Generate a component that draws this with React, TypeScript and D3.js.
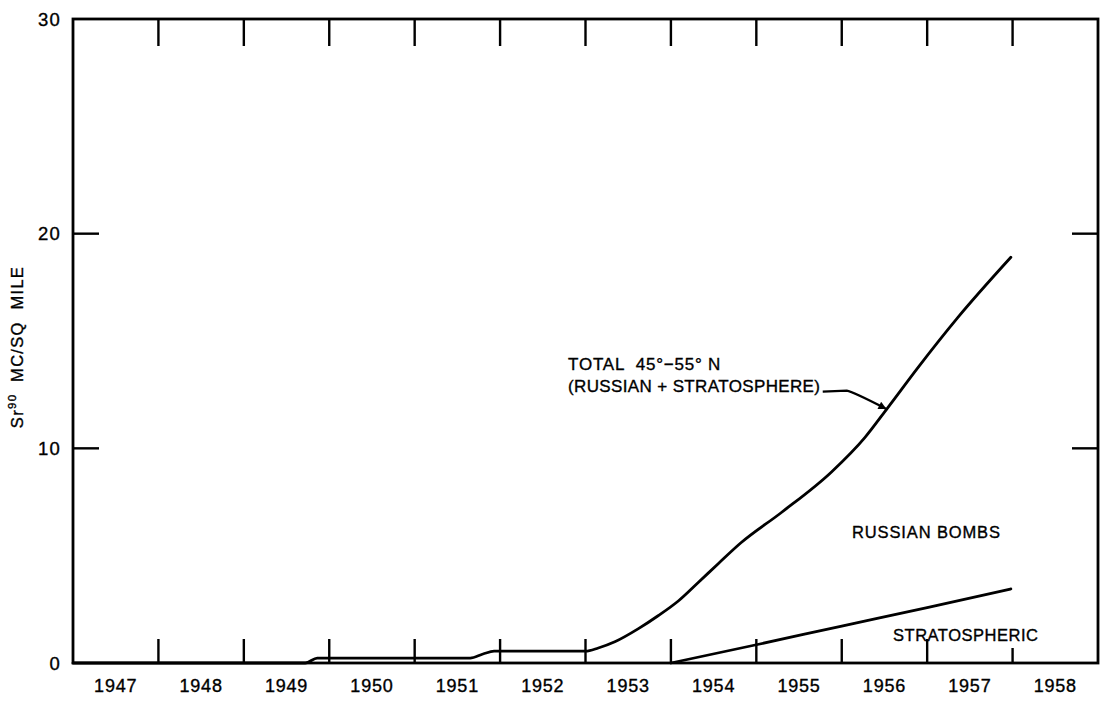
import React from 'react';
import * as d3 from 'd3';

// Sr90 deposit, 45°-55° N
const totalYears = [1947.0, 1949.72, 1949.86, 1951.65, 1951.8, 1951.93, 1953.0, 1953.15, 1953.35, 1953.62, 1953.85, 1954.09, 1954.32, 1954.56, 1954.82, 1955.29, 1955.88, 1956.27, 1956.54, 1956.89, 1957.36, 1957.98];
const totalValues = [0, 0, 0.23, 0.23, 0.42, 0.55, 0.55, 0.7, 1.0, 1.6, 2.2, 2.9, 3.75, 4.65, 5.6, 7.0, 8.9, 10.5, 11.9, 13.75, 16.1, 18.9];

const stratoYears = [1954.0, 1955.0, 1956.0, 1957.0, 1957.98];
const stratoValues = [0, 0.85, 1.72, 2.58, 3.45];

const yearLabels = ['1947', '1948', '1949', '1950', '1951', '1952', '1953', '1954', '1955', '1956', '1957', '1958'];
const yearTicks = [1948, 1949, 1950, 1951, 1952, 1953, 1954, 1955, 1956, 1957, 1958];
const valueTicks = [0, 10, 20, 30];

const W = 1106;
const H = 702;
const FONT = '"Liberation Sans", Arial, sans-serif';

export default function App() {
  const x = d3.scaleLinear().domain([1947, 1959]).range([73, 1098]);
  const y = d3.scaleLinear().domain([0, 30]).range([663, 19]);

  const line = d3.line<[number, number]>()
    .x(d => x(d[0]))
    .y(d => y(d[1]))
    .curve(d3.curveMonotoneX);

  const total = totalYears.map((t, i) => [t, totalValues[i]] as [number, number]);
  const strato = stratoYears.map((t, i) => [t, stratoValues[i]] as [number, number]);

  // arrow pointing at the total curve
  const tipX = x(1956.55) - 3;
  const tipY = y(11.8) - 1;
  const startX = x(1956.55) - 66;
  const startY = tipY - 17;

  const x0 = x(1947), x1 = x(1959), y0 = y(0), y1 = y(30);
  const ink = { fill: '#000', stroke: '#000', strokeWidth: 0.35 };

  return (
    <svg width={W} height={H} style={{ position: 'absolute', left: 0, top: 0, background: '#fff' }}
      fontFamily={FONT}>
      <defs>
        <marker id="arr" viewBox="0 0 10 10" refX="9" refY="5" markerWidth="10" markerHeight="8"
          markerUnits="userSpaceOnUse" orient="auto">
          <path d="M0,0 L10,5 L0,10 z" fill="#000" />
        </marker>
      </defs>

      {/* frame */}
      <rect x={x0} y={y1} width={x1 - x0} height={y0 - y1} fill="none" stroke="#000" strokeWidth={2.8} />

      {/* year ticks, top and bottom */}
      {yearTicks.map(t => (
        <g key={t} stroke="#000" strokeWidth={2.4}>
          <line x1={x(t)} x2={x(t)} y1={y1} y2={y1 + 27} />
          <line x1={x(t)} x2={x(t)} y1={y0} y2={y0 - (t === 1958 ? 15 : 24)} />
        </g>
      ))}

      {/* value ticks, left and right */}
      {valueTicks.filter(v => v > 0 && v < 30).map(v => (
        <g key={v} stroke="#000" strokeWidth={2.4}>
          <line x1={x0} x2={x0 + 26} y1={y(v)} y2={y(v)} />
          <line x1={x1} x2={x1 - 26} y1={y(v)} y2={y(v)} />
        </g>
      ))}

      {/* tick labels */}
      {valueTicks.map(v => (
        <text key={v} x={61} y={y(v)} dy="0.36em" textAnchor="end" fontSize={18.5} letterSpacing={1.2} {...ink}>{v}</text>
      ))}
      {yearLabels.map((lab, i) => (
        <text key={lab} x={x(1947.5 + i)} y={691.5} textAnchor="middle" fontSize={18} letterSpacing={0.8} {...ink}>{lab}</text>
      ))}

      {/* axis title */}
      <text transform={`translate(23,${347}) rotate(-90)`} textAnchor="middle" fontSize={16.5} letterSpacing={1.3}
        style={{ whiteSpace: 'pre' }} {...ink}>
        Sr<tspan dy={-7} fontSize={11.5}>90</tspan><tspan dy={7}>  MC/SQ  MILE</tspan>
      </text>

      {/* curves */}
      <path d={line(total) || ''} fill="none" stroke="#000" strokeWidth={2.8} strokeLinecap="round" strokeLinejoin="round" />
      <path d={line(strato) || ''} fill="none" stroke="#000" strokeWidth={2.8} strokeLinecap="round" />

      {/* annotations */}
      <text x={568} y={370} fontSize={17} letterSpacing={0.8} style={{ whiteSpace: 'pre' }} {...ink}>TOTAL  45°−55° N</text>
      <text x={568} y={392} fontSize={17} textLength={252} lengthAdjust="spacing" {...ink}>(RUSSIAN + STRATOSPHERE)</text>
      <path d={`M${startX},${startY} L${startX + 24},${startY - 1} Q${startX + 30},${startY} ${tipX},${tipY}`}
        fill="none" stroke="#000" strokeWidth={2.2} markerEnd="url(#arr)" />

      <text x={852} y={538} fontSize={16.5} textLength={148} lengthAdjust="spacing" {...ink}>RUSSIAN BOMBS</text>
      <text x={893} y={641} fontSize={16.5} textLength={145} lengthAdjust="spacing" {...ink}>STRATOSPHERIC</text>
    </svg>
  );
}
